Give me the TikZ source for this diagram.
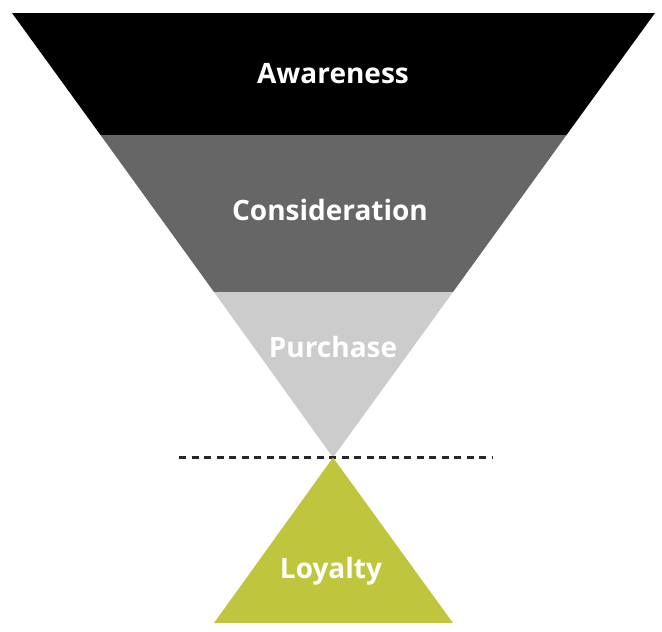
\documentclass[tikz,border=0pt]{standalone}
\usepackage{fontspec}
\setmainfont{Open Sans}
\definecolor{midgray}{HTML}{666666}
\definecolor{lightgray}{HTML}{CCCCCC}
\definecolor{loyalgreen}{HTML}{BFC63E}
\tikzset{stagelabel/.style={text=white,font=\fontsize{28}{32}\selectfont\bfseries}}
\begin{document}
\begin{tikzpicture}[x=1pt,y=-1pt]
    \useasboundingbox (0,0) rectangle (662,632);
    % 漏斗
    \fill [black] (12,13) -- (655,13) -- (566.5,135) -- (100.5,135) -- cycle;
    \fill [midgray] (100.5,135) -- (566.5,135) -- (453,292) -- (214,292) -- cycle;
    \fill [lightgray] (214,292) -- (453,292) -- (333,457.5) -- cycle;
    % 虚线
    \draw [line width=2.2pt, dash pattern=on 7pt off 5.5pt, draw=black!85] (179,457.5) -- (492,457.5);
    % 三角形
    \fill [loyalgreen] (333,457.5) -- (453,623) -- (214,623) -- cycle;

    \node [stagelabel] (awareness) at (333,74) {Awareness};
    \node [stagelabel] (consideration) at (330,210) {Consideration};
    \node [stagelabel] (purchase) at (333,347) {Purchase};
    \node [stagelabel] (loyalty) at (331,571) {Loyalty};
\end{tikzpicture}
\end{document}
